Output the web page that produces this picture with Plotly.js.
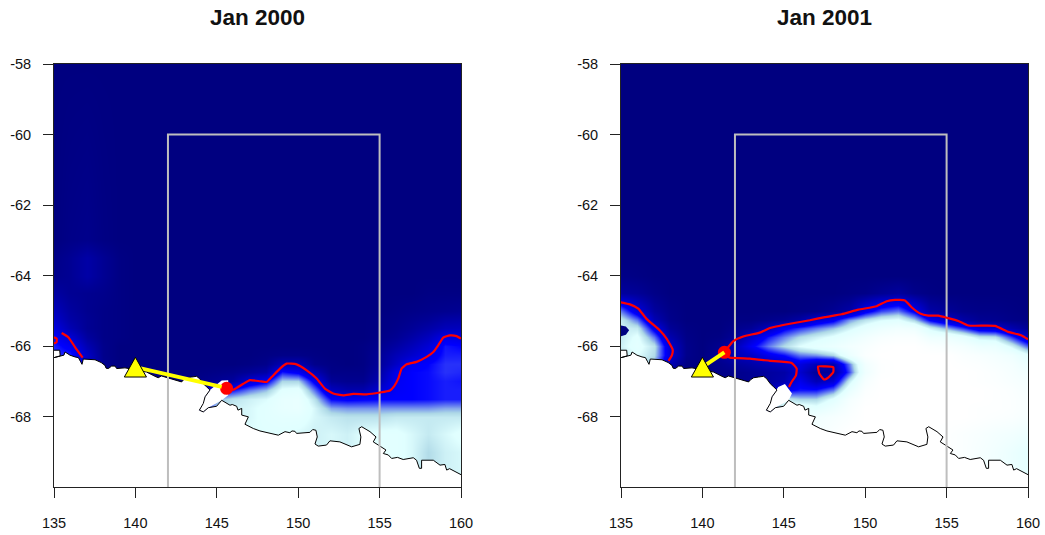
<!DOCTYPE html>
<html><head><meta charset="utf-8">
<script src="https://cdn.plot.ly/plotly-3.0.1.min.js"></script>
<style>html,body{margin:0;padding:0;background:#fff}</style></head>
<body><div id="chart" style="width:1045px;height:535px"></div>
<script>
var titles = ["Jan 2000", "Jan 2001"];
var lons = [135,136,137,138,139,140,141,142,143,144,145,146,147,148,149,150,151,152,153,154,155,156,157,158,159,160];
var lats = [-58,-63,-63.5,-64,-64.5,-65,-65.25,-65.5,-65.75,-66,-66.25,-66.5,-66.75,-67,-67.25,-67.5,-67.75,-68,-68.5,-69,-70];

var ice2000 = [
[0,0,0,0,0, 0,0,0,0,0, 0,0,0,0,0, 0,0,0,0,0, 0,0,0,0,0, 0],
[0,2,3,1,0, 0,0,0,0,0, 0,0,0,0,0, 0,0,0,0,0, 0,0,0,0,0, 0],
[2,5,10,5,1, 0,0,0,0,0, 0,0,0,0,0, 0,0,0,0,0, 0,0,0,0,0, 0],
[3,5,10,5,1, 0,0,0,0,0, 0,0,0,0,0, 0,0,0,0,0, 0,0,0,0,0, 0],
[9,5,4,3,1, 0,0,0,0,0, 0,0,0,0,0, 0,0,0,0,0, 0,0,0,1,1, 1],
[16,8,4,2,1, 0,0,0,0,0, 0,0,0,0,0, 0,0,0,0,0, 0,1,2,3,4, 5],
[20,10,5,2,1, 0,0,0,0,0, 0,0,0,0,0, 0,0,0,0,0, 1,2,4,6,10, 11],
[25,13,5,2,1, 0,0,0,0,0, 0,0,0,0,0, 0,0,0,0,0, 1,3,6,10,15, 16],
[32,22,8,2,1, 0,0,0,0,0, 0,0,0,0,0, 0,0,0,0,0, 2,5,10,16,27, 25],
[36,30,13,3,0, 0,0,0,0,0, 0,0,0,0,0, 0,0,0,0,1, 4,9,15,22,35, 33],
[38,36,18,3,0, 0,0,0,0,0, 0,0,0,1,2, 2,1,0,0,1, 6,14,20,27,36, 36],
[38,38,20,4,0, 0,0,0,0,0, 0,0,1,3,14, 14,3,1,0,1, 7,18,30,33,38, 38],
[38,38,20,4,0, 0,0,0,0,1, 2,3,6,10,35, 30,14,2,2,2, 10,27,33,34,38, 37],
[38,38,20,4,0, 0,0,0,1,3, 5,8,22,30,55, 55,30,6,4,4, 14,30,33,34,36, 35],
[38,38,20,4,0, 0,0,1,5,15, 30,35,45,52,68, 70,45,17,12,12, 22,31,33,34,36, 36],
[38,38,20,4,0, 0,0,2,10,30, 50,58,62,65,74, 76,58,33,31,32, 33,33,33,34,36, 36],
[38,38,20,4,0, 0,0,2,10,30, 55,62,64,68,74, 76,64,50,48,48, 48,48,48,48,50, 50],
[38,38,20,4,0, 0,0,2,10,30, 55,62,64,68,70, 70,64,60,58,58, 58,60,60,60,60, 60],
[38,38,20,4,0, 0,0,2,10,30, 55,62,66,66,66, 64,62,64,62,66, 68,68,64,60,64, 68],
[38,38,20,4,0, 0,0,2,10,30, 55,62,66,66,66, 64,62,64,62,66, 70,68,64,56,62, 64],
[38,38,20,4,0, 0,0,2,10,30, 55,62,66,66,66, 64,62,64,62,66, 70,68,64,56,62, 64]
];

var ice2001 = [
[0,0,0,0,0, 0,0,0,0,0, 0,0,0,0,0, 0,0,0,0,0, 0,0,0,0,0, 0],
[0,0,0,0,0, 0,0,0,0,0, 0,0,0,0,0, 0,0,0,0,0, 0,0,0,0,0, 0],
[0,0,0,0,0, 0,0,0,0,0, 0,0,0,0,0, 0,0,0,0,0, 0,0,0,0,0, 0],
[2,1,0,0,0, 0,0,0,0,0, 0,0,0,0,0, 0,0,0,0,0, 0,0,0,0,0, 0],
[8,6,2,0,0, 0,0,0,0,0, 0,0,0,0,1, 2,5,8,3,1, 0,0,0,0,0, 0],
[45,25,8,2,0, 0,0,0,0,0, 0,1,2,5,10, 28,40,45,30,10, 6,3,2,2,1, 0],
[60,45,14,3,0, 0,0,1,1,3, 5,10,22,30,48, 58,65,68,55,32, 20,10,5,4,2, 1],
[62,60,28,6,1, 0,0,3,6,16, 30,38,45,52,62, 72,80,85,82,62, 50,38,24,22,12, 5],
[60,68,45,12,2, 0,1,6,20,35, 46,56,62,68,76, 85,92,95,95,82, 80,72,60,58,38, 18],
[62,70,58,20,3, 0,4,14,30,45, 56,66,72,78,86, 92,98,100,100,95, 92,88,80,78,62, 42],
[58,66,56,22,3, 0,6,14,18,28, 34,45,48,55,78, 95,100,100,100,100, 100,95,92,88,82, 68],
[60,60,50,14,1, 0,3,7,10,14, 18,25,15,12,45, 85,98,100,100,100, 100,98,96,92,88, 78],
[60,60,50,5,0, 0,2,3,5,8, 10,20,6,6,40, 82,98,100,100,100, 100,100,98,95,90, 84],
[60,60,50,5,0, 0,2,3,5,8, 12,28,14,22,60, 90,100,100,100,100, 100,100,98,96,92, 88],
[60,60,50,5,0, 0,2,3,5,10, 30,35,35,45,75, 95,100,100,100,100, 100,100,100,98,95, 90],
[60,60,50,5,0, 0,2,3,5,30, 60,55,55,68,88, 98,100,100,100,100, 100,100,100,98,96, 92],
[60,60,50,5,0, 0,2,3,5,30, 70,75,70,80,92, 100,100,100,100,100, 100,100,98,98,96, 92],
[60,60,50,5,0, 0,2,3,5,30, 70,80,85,90,95, 100,100,100,100,100, 100,100,98,96,94, 90],
[60,60,50,5,0, 0,2,3,5,30, 70,80,90,95,100, 100,100,100,100,100, 98,95,92,88,85, 80],
[60,60,50,5,0, 0,2,3,5,30, 70,80,90,95,100, 100,100,100,100,100, 98,95,90,85,78, 70],
[60,60,50,5,0, 0,2,3,5,30, 70,80,90,95,100, 100,100,100,100,100, 98,95,90,85,78, 70]
];

var coastLon = [135,135.35,135.38,135,135.38,135.61,135.68,135.98,136.29,136.5,136.64,136.72,136.8,137.52,137.9,138.13,138.2,138.34,138.54,138.75,138.85,139.36,140.08,140.69,141.2,141.4,141.6,142.02,142.43,142.84,142.95,143.15,143.45,143.76,143.95,144.17,144.38,144.58,144.28,144.17,143.93,144.17,144.48,144.99,145.3,145.55,145.81,145.95,146.22,146.3,146.53,146.53,146.94,146.73,147.24,147.65,148.06,148.4,148.78,149.19,149.49,149.62,149.8,149.9,150.72,150.89,151.09,151.17,151.03,151.23,151.74,151.95,152.56,153.28,153.79,153.85,153.73,153.9,154.41,154.78,154.61,154.92,155.39,155.23,155.53,155.74,156.1,156.45,157.07,157.27,157.44,157.58,157.58,158.3,158.71,159.01,159.12,159.3,159.53,160];
var coastLat = [-66.12,-66.12,-66.28,-66.33,-66.28,-66.26,-66.17,-66.26,-66.31,-66.33,-66.45,-66.52,-66.37,-66.39,-66.47,-66.55,-66.63,-66.64,-66.57,-66.57,-66.64,-66.62,-66.68,-66.74,-66.86,-66.9,-66.85,-66.9,-66.97,-67.02,-66.96,-66.9,-66.88,-66.86,-66.93,-67.07,-67.16,-67.25,-67.44,-67.63,-67.82,-67.87,-67.75,-67.71,-67.54,-67.6,-67.68,-67.66,-67.71,-67.82,-67.77,-67.96,-68.01,-68.22,-68.34,-68.41,-68.46,-68.5,-68.53,-68.43,-68.46,-68.41,-68.42,-68.48,-68.45,-68.37,-68.39,-68.58,-68.78,-68.84,-68.81,-68.69,-68.72,-68.86,-68.79,-68.58,-68.34,-68.29,-68.43,-68.58,-68.72,-68.81,-68.95,-69.05,-69.09,-69.19,-69.16,-69.22,-69.17,-69.24,-69.47,-69.47,-69.24,-69.24,-69.38,-69.36,-69.52,-69.48,-69.54,-69.65];

var landCornerLon = [160,135];
var landCornerLat = [-70,-70];

var shelf2000Lon = [144.58,144.28,143.93,144.17,144.48,145.3,145.7,145.7,145.3];
var shelf2000Lat = [-67.25,-67.44,-67.82,-67.87,-67.75,-67.54,-67.4,-66.97,-66.98];
var shelf2001Lon = [144.66,145.07,145.5,145.3,144.48,144.17,143.93,144.28];
var shelf2001Lat = [-67.16,-67.08,-67.35,-67.54,-67.75,-67.87,-67.82,-67.44];
var openWaterLon = [135,135.3,135.5,135.3,135];
var openWaterLat = [-65.42,-65.45,-65.55,-65.68,-65.72];

var edge2000Lon = [135,135.16,135.16,135,null,135.47,135.88,136.29,136.76,null,145.61,146.02,146.63,147.04,147.65,148.06,148.37,148.88,149.29,149.9,150.52,151.13,151.64,152.15,152.77,153.38,154.2,155.02,155.64,155.9,156.15,156.35,156.66,157.27,157.89,158.3,158.6,158.91,159.32,159.73,160];
var edge2000Lat = [-65.75,-65.79,-65.89,-65.93,null,-65.63,-65.75,-66.03,-66.33,null,-67.23,-67.24,-67.07,-66.97,-67,-67.02,-66.88,-66.64,-66.5,-66.52,-66.69,-66.92,-67.21,-67.35,-67.4,-67.36,-67.37,-67.32,-67.26,-67.14,-66.92,-66.64,-66.52,-66.45,-66.31,-66.17,-65.98,-65.76,-65.7,-65.72,-65.79];
var edge2001Lon = [135,135.55,136.06,136.57,137.39,137.8,138.17,138.13,137.92,null,145.32,145.48,145.75,145.79,145.48,144.15,142.92,141.69,141.38,141.38,141.9,142.51,143.53,144.15,145.38,146.6,147.53,148.55,149.58,150.7,151.32,151.83,152.44,152.85,153.37,153.88,154.49,155.1,155.72,156.33,157.97,158.79,159.61,160,null,147.1,147.53,148.04,148.04,147.73,147.53,147.42,147.18,147.1];
var edge2001Lat = [-64.76,-64.82,-64.94,-65.23,-65.56,-65.79,-66.1,-66.26,-66.42,null,-67.16,-67.02,-66.83,-66.64,-66.48,-66.42,-66.36,-66.33,-66.26,-66.17,-65.86,-65.73,-65.62,-65.49,-65.37,-65.27,-65.18,-65.1,-64.97,-64.87,-64.73,-64.69,-64.71,-64.9,-65.08,-65.14,-65.14,-65.21,-65.29,-65.42,-65.43,-65.6,-65.7,-65.81,null,-66.58,-66.58,-66.6,-66.74,-66.9,-66.95,-66.93,-66.78,-66.58];

var boxLon = [142,142,155,155];
var boxLat = [-70,-60,-60,-70];
var stationLon = [139.32,140,140.68,139.32];
var stationLat = [-66.88,-66.32,-66.88,-66.88];
var linkStart = [140,-66.6];
var polynya2000 = [145.6,-67.2];
var polynya2001 = [141.35,-66.18];
var linkEnd2000 = [145.3,-67.16];
var linkEnd2001 = [141.35,-66.18];

var xTicks = [135,140,145,150,155,160];
var xLabels = ["135","140","145","150","155","160"];
var yTicks = [-58,-60,-62,-64,-66,-68];
var yLabels = ["-58","-60","-62","-64","-66","-68"];

var scale = [[0,"#000080"],[0.33,"#0000ff"],[0.55,"#add8e6"],[0.66,"#e0ffff"],[1,"#ffffff"]];
var W = 1045, H = 535;
var font = "'Liberation Sans', Arial, sans-serif";

function panel(n, ice, shelfLon, shelfLat, edgeLon, edgeLat, dot, linkEnd, extra) {
  var xa = n === 1 ? "x" : "x2", ya = n === 1 ? "y" : "y2";
  var t = [];
  t.push({type:"heatmap", x:lons, y:lats.slice().reverse(), z:ice.slice().reverse(), zmin:0, zmax:100,
    colorscale:scale, zsmooth:"best", showscale:false, hoverinfo:"skip", xaxis:xa, yaxis:ya});
  t.push({type:"scatter", mode:"lines", x:coastLon.concat(landCornerLon), y:coastLat.concat(landCornerLat),
    fill:"toself", fillcolor:"#ffffff", line:{width:0,color:"#ffffff"}, hoverinfo:"skip", xaxis:xa, yaxis:ya});
  t.push({type:"scatter", mode:"lines", x:shelfLon, y:shelfLat,
    fill:"toself", fillcolor:"#ffffff", line:{width:0,color:"#ffffff"}, hoverinfo:"skip", xaxis:xa, yaxis:ya});
  if (extra) t.push({type:"scatter", mode:"lines", x:openWaterLon, y:openWaterLat,
    fill:"toself", fillcolor:"#000080", line:{width:0,color:"#000080"}, hoverinfo:"skip", xaxis:xa, yaxis:ya});
  t.push({type:"scatter", mode:"lines", x:coastLon, y:coastLat, line:{color:"#000000",width:1}, hoverinfo:"skip", xaxis:xa, yaxis:ya});
  t.push({type:"scatter", mode:"lines", x:boxLon, y:boxLat, line:{color:"#bebebe",width:2}, hoverinfo:"skip", xaxis:xa, yaxis:ya});
  t.push({type:"scatter", mode:"lines", x:edgeLon, y:edgeLat, connectgaps:false, line:{color:"#ff0000",width:2.2,shape:"spline",smoothing:0.4}, hoverinfo:"skip", xaxis:xa, yaxis:ya});
  t.push({type:"scatter", mode:"markers", x:[dot[0]], y:[dot[1]], marker:{symbol:"circle",size:13,color:"#ff0000"}, hoverinfo:"skip", xaxis:xa, yaxis:ya});
  t.push({type:"scatter", mode:"lines", x:[linkStart[0],linkEnd[0]], y:[linkStart[1],linkEnd[1]], line:{color:"#ffff00",width:4}, hoverinfo:"skip", xaxis:xa, yaxis:ya});
  t.push({type:"scatter", mode:"lines", x:stationLon, y:stationLat, fill:"toself", fillcolor:"#ffff00", line:{color:"#000000",width:1}, hoverinfo:"skip", xaxis:xa, yaxis:ya});
  return t;
}

var data = panel(1, ice2000, shelf2000Lon, shelf2000Lat, edge2000Lon, edge2000Lat, polynya2000, linkEnd2000, false)
  .concat(panel(2, ice2001, shelf2001Lon, shelf2001Lat, edge2001Lon, edge2001Lat, polynya2001, linkEnd2001, true));

function xAxis(l, r, anchor) {
  return {domain:[l/W,r/W], range:[135,160], anchor:anchor, tickmode:"array", tickvals:xTicks, ticktext:xLabels,
    ticks:"outside", ticklen:10, tickwidth:1, tickcolor:"#222", showline:true, linecolor:"#222", linewidth:1, mirror:true,
    showgrid:false, zeroline:false, tickfont:{family:font,size:14.5,color:"#111"}, ticklabelstandoff:13};
}
function yAxis(anchor) {
  return {domain:[1-487/H,1-64/H], range:[-70,-58], anchor:anchor, tickmode:"array", tickvals:yTicks, ticktext:yLabels,
    ticks:"outside", ticklen:10, tickwidth:1, tickcolor:"#222", showline:true, linecolor:"#222", linewidth:1, mirror:true,
    showgrid:false, zeroline:false, tickfont:{family:font,size:14.5,color:"#111"}, ticklabelstandoff:9};
}
var layout = {width:W, height:H, margin:{l:0,r:0,t:0,b:0}, paper_bgcolor:"#fff", plot_bgcolor:"#fff", showlegend:false,
  xaxis:xAxis(54,461,"y"), yaxis:yAxis("x"), xaxis2:xAxis(621,1028,"y2"), yaxis2:yAxis("x2"),
  annotations:[
    {xref:"paper",yref:"paper",x:257.5/W,y:1-18/H,xanchor:"center",yanchor:"middle",showarrow:false,text:"<b>"+titles[0]+"</b>",font:{family:font,size:22.5,color:"#111"}},
    {xref:"paper",yref:"paper",x:824.5/W,y:1-18/H,xanchor:"center",yanchor:"middle",showarrow:false,text:"<b>"+titles[1]+"</b>",font:{family:font,size:22.5,color:"#111"}}
  ]};
Plotly.newPlot("chart", data, layout, {displayModeBar:false, staticPlot:true});
</script></body></html>
